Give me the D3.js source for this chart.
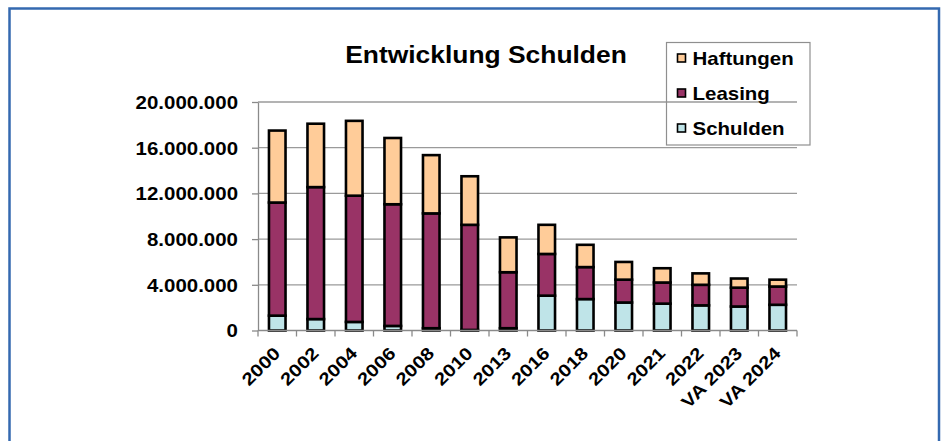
<!DOCTYPE html>
<meta charset="utf-8">
<style>
  body { margin: 0; background: #fff; }
  text { font-family: "Liberation Sans", Arial, sans-serif; font-weight: bold; fill: #000; }
</style>
<svg id="chart" width="945" height="441"></svg>
<script src="https://d3js.org/d3.v7.min.js"></script>
<script>

var years = ["2000", "2002", "2004", "2006", "2008", "2010", "2013", "2016",
             "2018", "2020", "2021", "2022", "VA 2023", "VA 2024"];
// values in millions
var schulden  = [1.3, 1.0, 0.75, 0.4, 0.2, 0.05, 0.2, 3.05, 2.75, 2.45, 2.35, 2.2, 2.1, 2.25];
var leasing   = [9.9, 11.55, 11.05, 10.65, 10.05, 9.2, 4.9, 3.65, 2.8, 2.0, 1.85, 1.8, 1.65, 1.6];
var haftungen = [6.3, 5.55, 6.55, 5.8, 5.1, 4.25, 3.05, 2.55, 1.95, 1.55, 1.25, 1.0, 0.8, 0.6];
var yTicks = [0, 4000000, 8000000, 12000000, 16000000, 20000000];

var series = [
  {key: "Schulden", values: schulden, color: "#bfe4e8"},
  {key: "Leasing", values: leasing, color: "#993366"},
  {key: "Haftungen", values: haftungen, color: "#ffcc99"}
];

var rows = years.map(function(y, i) {
  var r = {year: y};
  series.forEach(function(s) { r[s.key] = s.values[i] * 1e6; });
  return r;
});

// the text in the picture is drawn a bit wider than the font
var SX = 1.17;

var svg = d3.select("#chart"),
    margin = {top: 102, right: 148, bottom: 110.5, left: 258},
    width = +svg.attr("width") - margin.left - margin.right,
    height = +svg.attr("height") - margin.top - margin.bottom;

// blue frame round the picture
svg.append("rect")
    .attr("x", 9.5).attr("y", 8.5)
    .attr("width", 929.5).attr("height", 450)
    .attr("fill", "none")
    .attr("stroke", "#3469b0")
    .attr("stroke-width", 2.5);

var g = svg.append("g").attr("transform", "translate(" + margin.left + "," + margin.top + ")");

var x = d3.scaleBand().domain(years).range([0, width]).paddingInner(0.57).paddingOuter(0.285);
var xb = d3.scalePoint().domain(d3.range(years.length + 1)).range([0, width]);
var y = d3.scaleLinear().domain([0, 20000000]).range([height, 0]);

var de = d3.formatLocale({decimal: ",", thousands: ".", grouping: [3], currency: ["", "€"]});

// gridlines
g.append("g")
  .selectAll("line")
  .data(yTicks.slice(1))
  .join("line")
    .attr("x1", 0).attr("x2", width)
    .attr("y1", function(d) { return y(d); })
    .attr("y2", function(d) { return y(d); })
    .attr("stroke", "#9a9a9a")
    .attr("stroke-width", 1.3);

// y axis
var ya = g.append("g")
    .call(d3.axisLeft(y).tickValues(yTicks).tickFormat(de.format(",.0f")).tickSize(6).tickPadding(14).tickSizeOuter(0));
ya.select(".domain").attr("stroke", "#8a8a8a").attr("stroke-width", 1.3);
ya.selectAll(".tick line").attr("stroke", "#8a8a8a").attr("stroke-width", 1.3);
ya.selectAll("text")
    .attr("font-size", 17.5)
    .attr("dy", "0.36em")
    .attr("x", -20 / SX)
    .attr("transform", "scale(" + SX + ",1)");

// bars
var stack = d3.stack().keys(series.map(function(s) { return s.key; }));
var layers = stack(rows);

g.append("g")
  .selectAll("g")
  .data(layers)
  .join("g")
    .attr("fill", function(d, i) { return series[i].color; })
  .selectAll("rect")
  .data(function(d) { return d; })
  .join("rect")
    .attr("x", function(d) { return x(d.data.year); })
    .attr("y", function(d) { return y(d[1]); })
    .attr("width", x.bandwidth())
    .attr("height", function(d) { return y(d[0]) - y(d[1]); })
    .attr("stroke", "#000")
    .attr("stroke-width", 2.6);

// x axis
g.append("line")
    .attr("x1", 0).attr("x2", width)
    .attr("y1", height).attr("y2", height)
    .attr("stroke", "#8a8a8a").attr("stroke-width", 1.3);
g.append("g")
  .selectAll("line")
  .data(d3.range(years.length + 1))
  .join("line")
    .attr("x1", function(d) { return xb(d); })
    .attr("x2", function(d) { return xb(d); })
    .attr("y1", height).attr("y2", height + 6)
    .attr("stroke", "#8a8a8a").attr("stroke-width", 1.3);

g.append("g")
  .selectAll("text")
  .data(years)
  .join("text")
    .attr("font-size", 17.5)
    .attr("text-anchor", "end")
    .attr("transform", function(d) {
      return "translate(" + (x(d) + x.bandwidth() / 2 + 4) + "," + (height + 24) + ") rotate(-45) scale(" + SX + ",1)";
    })
    .text(function(d) { return d; });

// title
svg.append("text")
    .attr("text-anchor", "middle")
    .attr("font-size", 24)
    .attr("transform", "translate(486,63) scale(1.1,1)")
    .text("Entwicklung Schulden");

// legend
var legend = svg.append("g").attr("transform", "translate(666.5,42.5)");
legend.append("rect")
    .attr("width", 143.5).attr("height", 102.5)
    .attr("fill", "none")
    .attr("stroke", "#8f8f8f").attr("stroke-width", 1.2);
var items = legend.selectAll("g.item")
  .data(series.slice().reverse())
  .join("g")
    .attr("class", "item")
    .attr("transform", function(d, i) { return "translate(0," + (22.5 + i * 35) + ")"; });
items.append("rect")
    .attr("x", 11).attr("y", -11)
    .attr("width", 8).attr("height", 8)
    .attr("fill", function(d) { return d.color; })
    .attr("stroke", "#000").attr("stroke-width", 1.6);
items.append("text")
    .attr("font-size", 17.5)
    .attr("transform", "translate(26,0) scale(" + SX + ",1)")
    .text(function(d) { return d.key; });

</script>
